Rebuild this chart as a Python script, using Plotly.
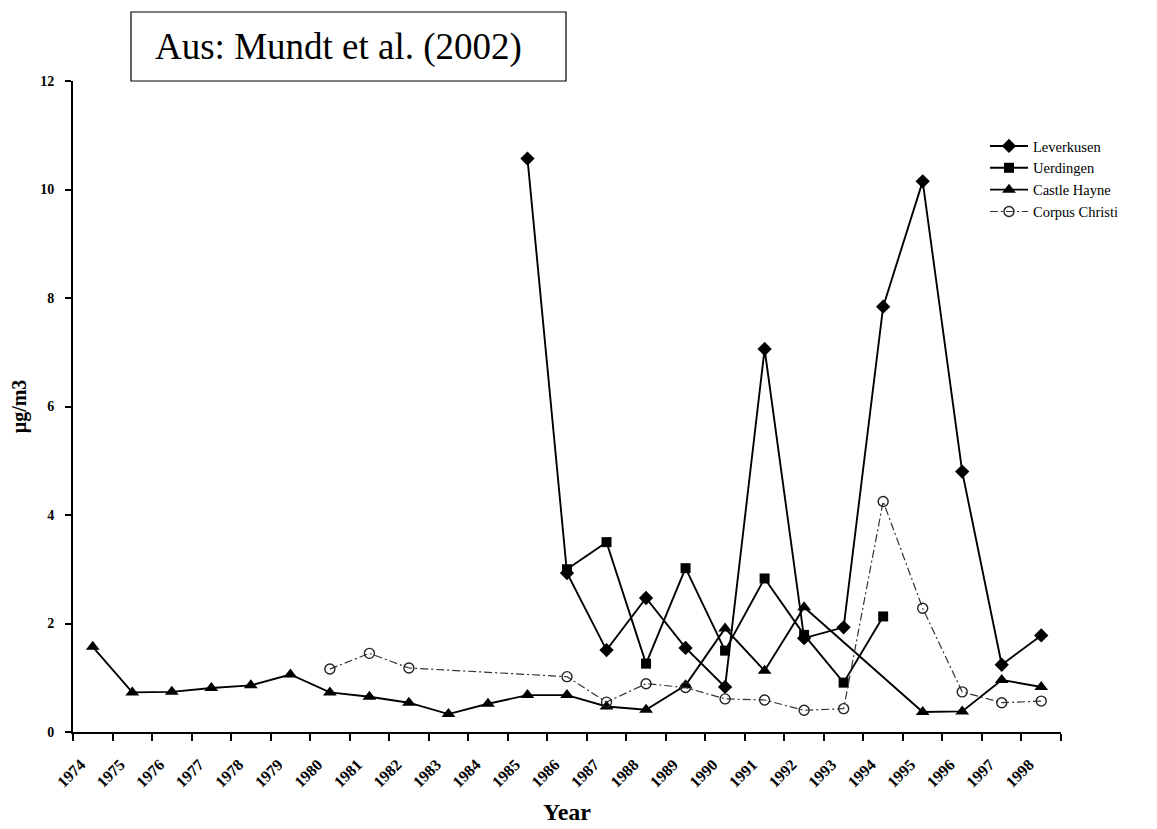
import plotly.graph_objects as go

years = [str(y) for y in range(1974, 1999)]

leverkusen = [None] * 11 + [10.57, 2.93, 1.51, 2.47, 1.55, 0.83, 7.06, 1.73, 1.93,
                            7.84, 10.15, 4.8, 1.24, 1.78]
uerdingen = [None] * 12 + [3.0, 3.5, 1.26, 3.02, 1.5, 2.83, 1.79, 0.91, 2.13] + [None] * 4
castle_hayne = [1.57, 0.73, 0.74, 0.81, 0.86, 1.06, 0.73, 0.65, 0.54, 0.33, 0.52, 0.68,
                0.68, 0.47, 0.41, 0.86, 1.91, 1.13, 2.3, None, None, 0.37, 0.38, 0.96, 0.83]
corpus_christi = [None] * 6 + [1.16, 1.45, 1.18, None, None, None, 1.02, 0.55, 0.89, 0.82,
                               0.61, 0.59, 0.4, 0.43, 4.25, 2.28, 0.74, 0.54, 0.57]

y_ticks = [0, 2, 4, 6, 8, 10, 12]

SERIF = "Liberation Serif, Times New Roman, serif"

# page offset of the plot div (default body margin)
OFF = 8
# plot area geometry in screenshot pixels
L, R, T, B = 73, 1061, 81, 732
W, H = R - L, B - T
FW, FH = 1157, 829


def px_x(x):
    return (x - L) / W


def px_y(y):
    return (B - y) / H


fig = go.Figure()
fig.add_trace(go.Scatter(x=years, y=leverkusen, name="Leverkusen", mode="lines+markers",
                         connectgaps=True,
                         line=dict(color="black", width=1.9),
                         marker=dict(symbol="diamond", size=11, color="black")))
fig.add_trace(go.Scatter(x=years, y=uerdingen, name="Uerdingen", mode="lines+markers",
                         connectgaps=True,
                         line=dict(color="black", width=1.9),
                         marker=dict(symbol="square", size=10, color="black")))
fig.add_trace(go.Scatter(x=years, y=castle_hayne, name="Castle Hayne", mode="lines+markers",
                         connectgaps=True,
                         line=dict(color="black", width=1.9),
                         marker=dict(symbol="triangle-up", size=12, color="black")))
fig.add_trace(go.Scatter(x=years, y=corpus_christi, name="Corpus Christi", mode="lines+markers",
                         connectgaps=True,
                         line=dict(color="#333333", width=1.2, dash="8px,3px,2px,3px"),
                         marker=dict(symbol="circle-open", size=10, color="#222222",
                                     line=dict(width=1.4))))

fig.update_layout(
    width=FW, height=FH,
    margin=dict(l=L - OFF, r=FW - (R - OFF), t=T - OFF, b=FH - (B - OFF), autoexpand=False),
    paper_bgcolor="white", plot_bgcolor="white",
    font=dict(family=SERIF, color="black"),
    showlegend=True,
    legend=dict(x=px_x(985), y=px_y(130), xanchor="left", yanchor="top",
                font=dict(family=SERIF, size=14.5, color="black"),
                bgcolor="rgba(0,0,0,0)", tracegroupgap=0, itemwidth=38),
    xaxis=dict(type="category", categoryorder="array", categoryarray=years,
               range=[-0.5, 24.5], tickson="boundaries", automargin=False,
               ticks="outside", ticklen=7, tickwidth=1.5, tickcolor="black",
               showline=True, linecolor="black", linewidth=2,
               showgrid=False, zeroline=False, tickangle=-45,
               ticklabelstandoff=15, ticklabelshift=-12,
               tickfont=dict(family=SERIF, size=16, color="black", weight="bold"),
               title=dict(text="<b>Year</b>", font=dict(family=SERIF, size=24), standoff=14)),
    yaxis=dict(range=[0, 12], tickvals=y_ticks, ticktext=[str(v) for v in y_ticks],
               automargin=False,
               ticks="outside", ticklen=6, tickwidth=1.5, tickcolor="black",
               showline=True, linecolor="black", linewidth=2,
               showgrid=False, zeroline=False, ticklabelstandoff=8,
               tickfont=dict(family=SERIF, size=14, color="black", weight="bold"),
               title=dict(text="<b>µg/m3</b>", font=dict(family=SERIF, size=20), standoff=12)),
)

fig.add_shape(type="rect", xref="paper", yref="paper",
              x0=px_x(131), x1=px_x(566), y0=px_y(81), y1=px_y(12),
              line=dict(color="black", width=1.2), fillcolor="white")
fig.add_annotation(xref="paper", yref="paper", xanchor="center", yanchor="middle",
                   x=px_x(338), y=px_y(47),
                   text="Aus: Mundt et al. (2002)", showarrow=False,
                   font=dict(family=SERIF, size=37, color="black"))

fig.write_html("out.html")
